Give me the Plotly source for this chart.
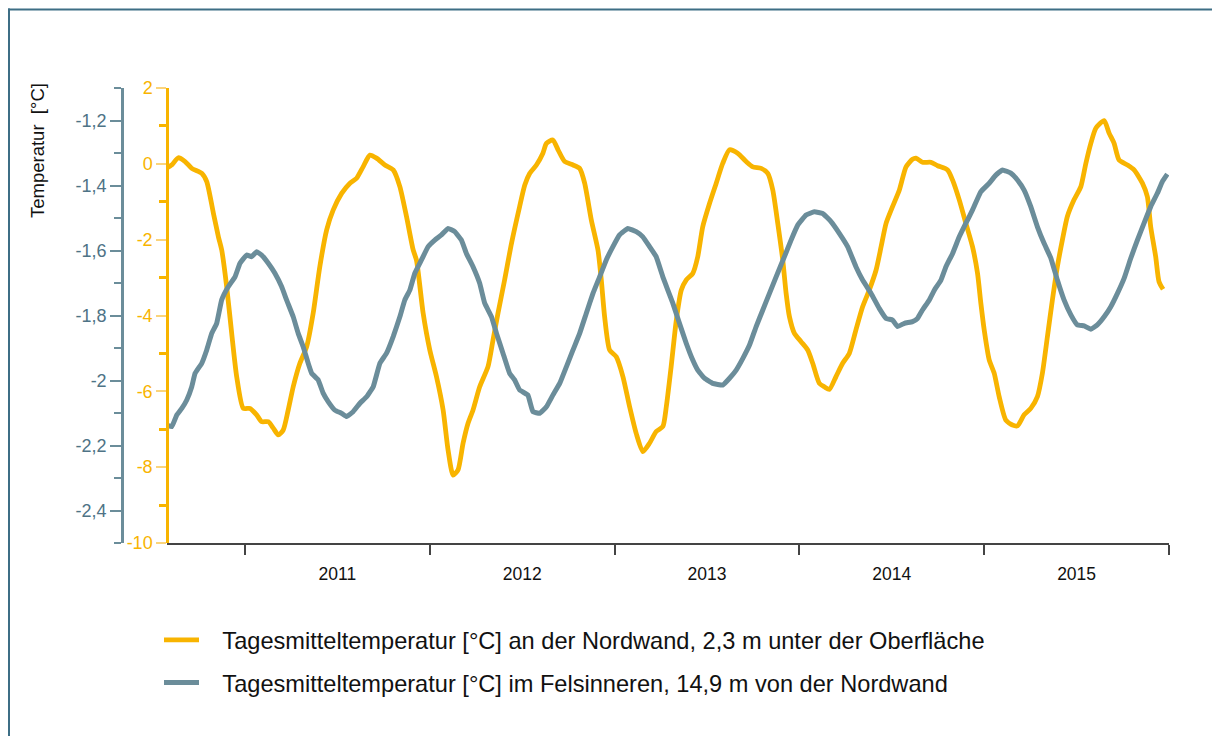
import plotly.graph_objects as go

# ---- data (decimal years, values) ----
t_nordwand = [2010.573, 2010.604, 2010.639, 2010.676, 2010.712, 2010.766, 2010.793, 2010.829, 2010.856, 2010.874,
              2010.901, 2010.928, 2010.955, 2010.991, 2011.027, 2011.063, 2011.090, 2011.126, 2011.153, 2011.180,
              2011.207, 2011.234, 2011.261, 2011.297, 2011.334, 2011.369, 2011.405, 2011.442, 2011.477, 2011.523,
              2011.568, 2011.604, 2011.639, 2011.676, 2011.712, 2011.757, 2011.802, 2011.838, 2011.874, 2011.910,
              2011.928, 2011.964, 2012.000, 2012.036, 2012.072, 2012.099, 2012.126, 2012.153, 2012.180, 2012.207,
              2012.234, 2012.270, 2012.315, 2012.342, 2012.369, 2012.405, 2012.442, 2012.486, 2012.514, 2012.541,
              2012.577, 2012.612, 2012.631, 2012.666, 2012.694, 2012.730, 2012.775, 2012.811, 2012.838, 2012.874,
              2012.910, 2012.928, 2012.946, 2012.973, 2013.009, 2013.045, 2013.081, 2013.117, 2013.153, 2013.189,
              2013.225, 2013.261, 2013.280, 2013.306, 2013.334, 2013.361, 2013.388, 2013.423, 2013.450, 2013.477,
              2013.514, 2013.550, 2013.585, 2013.622, 2013.666, 2013.712, 2013.748, 2013.793, 2013.829, 2013.856,
              2013.883, 2013.910, 2013.928, 2013.946, 2013.973, 2014.009, 2014.045, 2014.072, 2014.108, 2014.135,
              2014.162, 2014.198, 2014.234, 2014.270, 2014.306, 2014.342, 2014.378, 2014.415, 2014.442, 2014.469,
              2014.504, 2014.541, 2014.577, 2014.612, 2014.631, 2014.666, 2014.712, 2014.748, 2014.802, 2014.829,
              2014.865, 2014.901, 2014.937, 2014.964, 2014.982, 2015.000, 2015.027, 2015.054, 2015.081, 2015.117,
              2015.153, 2015.180, 2015.216, 2015.252, 2015.288, 2015.315, 2015.342, 2015.369, 2015.396, 2015.423,
              2015.450, 2015.486, 2015.523, 2015.550, 2015.577, 2015.604, 2015.649, 2015.676, 2015.703, 2015.730,
              2015.775, 2015.811, 2015.856, 2015.883, 2015.901, 2015.928, 2015.946, 2015.968]
temp_nordwand = [-0.12, -0.03, 0.16, 0.06, -0.12, -0.25, -0.47, -1.30, -1.92, -2.27,
                 -3.24, -4.47, -5.61, -6.45, -6.45, -6.62, -6.80, -6.80, -6.97, -7.15,
                 -7.02, -6.49, -5.88, -5.26, -4.82, -3.94, -2.71, -1.74, -1.22, -0.78,
                 -0.51, -0.38, -0.08, 0.23, 0.15, -0.03, -0.16, -0.60, -1.39, -2.27,
                 -2.54, -3.94, -4.91, -5.61, -6.49, -7.55, -8.21, -8.07, -7.37, -6.84,
                 -6.49, -5.88, -5.35, -4.65, -3.94, -3.06, -2.10, -1.13, -0.56, -0.25,
                 -0.03, 0.28, 0.54, 0.63, 0.37, 0.06, -0.03, -0.12, -0.51, -1.48,
                 -2.27, -3.06, -4.03, -4.91, -5.09, -5.61, -6.40, -7.11, -7.59, -7.37,
                 -7.06, -6.93, -6.40, -5.35, -4.12, -3.33, -3.06, -2.89, -2.45, -1.66,
                 -1.04, -0.51, 0.01, 0.37, 0.28, 0.06, -0.08, -0.12, -0.25, -0.69,
                 -1.57, -2.54, -3.41, -4.03, -4.47, -4.69, -4.91, -5.26, -5.79, -5.88,
                 -5.95, -5.61, -5.26, -5.00, -4.38, -3.77, -3.33, -2.80, -2.19, -1.57,
                 -1.13, -0.69, -0.08, 0.12, 0.15, 0.04, 0.04, -0.05, -0.16, -0.43,
                 -0.95, -1.57, -2.19, -2.89, -3.68, -4.38, -5.17, -5.52, -6.14, -6.76,
                 -6.89, -6.91, -6.62, -6.45, -6.14, -5.52, -4.56, -3.59, -2.71, -2.01,
                 -1.39, -0.95, -0.60, 0.01, 0.54, 0.94, 1.14, 0.81, 0.54, 0.10,
                 -0.03, -0.16, -0.51, -0.87, -1.66, -2.45, -3.11, -3.31]

t_fels = [2010.577, 2010.604, 2010.631, 2010.658, 2010.685, 2010.712, 2010.730, 2010.766, 2010.793, 2010.820,
          2010.847, 2010.874, 2010.910, 2010.946, 2010.973, 2011.009, 2011.036, 2011.063, 2011.090, 2011.126,
          2011.162, 2011.198, 2011.225, 2011.261, 2011.288, 2011.315, 2011.342, 2011.361, 2011.396, 2011.423,
          2011.450, 2011.486, 2011.523, 2011.550, 2011.585, 2011.622, 2011.658, 2011.694, 2011.730, 2011.766,
          2011.802, 2011.838, 2011.865, 2011.892, 2011.919, 2011.955, 2011.991, 2012.027, 2012.063, 2012.099,
          2012.135, 2012.171, 2012.198, 2012.234, 2012.270, 2012.297, 2012.334, 2012.361, 2012.396, 2012.432,
          2012.459, 2012.486, 2012.531, 2012.558, 2012.595, 2012.631, 2012.666, 2012.703, 2012.739, 2012.775,
          2012.811, 2012.847, 2012.883, 2012.919, 2012.955, 2012.991, 2013.027, 2013.072, 2013.117, 2013.153,
          2013.189, 2013.225, 2013.261, 2013.288, 2013.315, 2013.351, 2013.388, 2013.423, 2013.450, 2013.486,
          2013.531, 2013.585, 2013.622, 2013.658, 2013.694, 2013.730, 2013.766, 2013.802, 2013.838, 2013.874,
          2013.919, 2013.955, 2013.991, 2014.036, 2014.081, 2014.126, 2014.171, 2014.216, 2014.261, 2014.306,
          2014.342, 2014.388, 2014.432, 2014.469, 2014.504, 2014.531, 2014.568, 2014.612, 2014.639, 2014.666,
          2014.703, 2014.730, 2014.766, 2014.793, 2014.829, 2014.865, 2014.901, 2014.937, 2014.982, 2015.027,
          2015.063, 2015.099, 2015.144, 2015.180, 2015.216, 2015.252, 2015.288, 2015.324, 2015.361, 2015.396,
          2015.432, 2015.469, 2015.504, 2015.541, 2015.577, 2015.612, 2015.649, 2015.685, 2015.721, 2015.757,
          2015.793, 2015.829, 2015.865, 2015.901, 2015.937, 2015.964, 2015.991]
temp_fels = [-2.137, -2.142, -2.106, -2.086, -2.060, -2.019, -1.978, -1.947, -1.906, -1.855,
             -1.824, -1.752, -1.711, -1.681, -1.639, -1.614, -1.619, -1.604, -1.614, -1.639,
             -1.670, -1.711, -1.752, -1.804, -1.855, -1.896, -1.947, -1.978, -1.998, -2.039,
             -2.065, -2.091, -2.101, -2.111, -2.096, -2.070, -2.050, -2.019, -1.947, -1.916,
             -1.865, -1.804, -1.752, -1.722, -1.670, -1.629, -1.588, -1.568, -1.552, -1.532,
             -1.542, -1.568, -1.609, -1.650, -1.701, -1.762, -1.804, -1.855, -1.916, -1.978,
             -1.998, -2.029, -2.045, -2.096, -2.101, -2.081, -2.045, -2.009, -1.958, -1.906,
             -1.855, -1.793, -1.732, -1.681, -1.629, -1.588, -1.552, -1.532, -1.542, -1.558,
             -1.588, -1.619, -1.681, -1.722, -1.762, -1.824, -1.886, -1.937, -1.968, -1.993,
             -2.009, -2.014, -1.993, -1.968, -1.932, -1.891, -1.834, -1.783, -1.732, -1.681,
             -1.619, -1.568, -1.522, -1.491, -1.481, -1.486, -1.511, -1.547, -1.588, -1.650,
             -1.691, -1.732, -1.778, -1.809, -1.814, -1.834, -1.824, -1.819, -1.809, -1.783,
             -1.752, -1.722, -1.691, -1.650, -1.609, -1.558, -1.516, -1.475, -1.419, -1.393,
             -1.368, -1.352, -1.362, -1.383, -1.414, -1.465, -1.527, -1.578, -1.624, -1.691,
             -1.752, -1.798, -1.829, -1.832, -1.842, -1.829, -1.804, -1.773, -1.732, -1.686,
             -1.624, -1.568, -1.516, -1.465, -1.424, -1.388, -1.365]

name_nordwand = "Tagesmitteltemperatur [°C] an der Nordwand, 2,3 m unter der Oberfläche"
name_fels = "Tagesmitteltemperatur [°C] im Felsinneren, 14,9 m von der Nordwand"

year_labels = ["2011", "2012", "2013", "2014", "2015"]
year_label_pos = [2011.5, 2012.5, 2013.5, 2014.5, 2015.5]
year_bounds = [2011, 2012, 2013, 2014, 2015, 2016]

y1_ticks = [-10, -8, -6, -4, -2, 0, 2]
y1_text = ["-10", "-8", "-6", "-4", "-2", "0", "2"]
y1_minor = [-9, -7, -5, -3, -1, 1]
y2_ticks = [-2.4, -2.2, -2.0, -1.8, -1.6, -1.4, -1.2]
y2_text = ["-2,4", "-2,2", "-2", "-1,8", "-1,6", "-1,4", "-1,2"]
y2_minor = [-2.5, -2.3, -2.1, -1.9, -1.7, -1.5, -1.3, -1.1]

# ---- style ----
ORANGE = "#F8B400"
ORANGE_LIGHT = "#FBD47C"
GREY = "#6B8D9A"
GREY_TEXT = "#4E7386"
FRAME = "#3D6E85"
FONT = "Liberation Sans, Arial, sans-serif"

# page body margin is removed by the post script, so the figure fills the window
OFF = 0
W, H = 1212, 736
ML, MR, MT, MB = 122, 43, 88, 193
plot_w = W - ML - MR
plot_h = H - MT - MB
xdom0 = 45 / plot_w


def px_x(sx):
    return (sx - OFF - ML) / plot_w


def px_y(sy):
    return 1 - (sy - OFF - MT) / plot_h


fig = go.Figure()
fig.add_trace(go.Scatter(x=t_nordwand, y=temp_nordwand, name="\u2002\u00a0" + name_nordwand, mode="lines",
                         line=dict(color=ORANGE, width=4.8, shape="spline", smoothing=0.6),
                         yaxis="y", legendgroup="a"))
fig.add_trace(go.Scatter(x=t_fels, y=temp_fels, name="\u2002\u00a0" + name_fels, mode="lines",
                         line=dict(color=GREY, width=5, shape="spline", smoothing=0.3),
                         yaxis="y2", legendgroup="b"))

fig.update_layout(
    width=W, height=H,
    margin=dict(l=ML, r=MR, t=MT, b=MB, pad=0),
    paper_bgcolor="white", plot_bgcolor="white",
    font=dict(family=FONT, color="#111111"),
    xaxis=dict(domain=[xdom0, 1], range=[2010.578, 2016.0], showgrid=False, zeroline=False,
               showline=True, linecolor="#444444", linewidth=1.5,
               tickmode="array", tickvals=year_label_pos, ticktext=year_labels, ticks="",
               tickfont=dict(size=17.5, color="#111111"), ticklabelstandoff=14,
               minor=dict(tickmode="array", tickvals=year_bounds, ticks="outside", ticklen=10,
                          tickwidth=1.5, tickcolor="#444444", showgrid=False)),
    yaxis=dict(range=[-10, 2], anchor="free", position=xdom0, showgrid=False, zeroline=False,
               showline=True, linecolor=ORANGE, linewidth=2.5,
               tickmode="array", tickvals=y1_ticks, ticktext=y1_text,
               ticks="outside", ticklen=10, tickwidth=1.5, tickcolor=ORANGE_LIGHT,
               tickfont=dict(size=18, color=ORANGE),
               minor=dict(tickmode="array", tickvals=y1_minor, ticks="outside", ticklen=7,
                          tickwidth=3, tickcolor=ORANGE, showgrid=False)),
    yaxis2=dict(range=[-2.5, -1.1], overlaying="y", anchor="free", position=0, side="left",
                showgrid=False, zeroline=False, showline=True, linecolor=GREY, linewidth=2.5,
                tickmode="array", tickvals=y2_ticks, ticktext=y2_text,
                ticks="outside", ticklen=11, tickwidth=1.5, tickcolor=GREY,
                tickfont=dict(size=18, color=GREY_TEXT),
                minor=dict(tickmode="array", tickvals=y2_minor, ticks="outside", ticklen=7,
                           tickwidth=1.5, tickcolor=GREY, showgrid=False)),
    showlegend=True,
    legend=dict(orientation="v", x=px_x(159), y=px_y(618),
                xanchor="left", yanchor="top", font=dict(size=23.6, color="#111111"),
                bgcolor="rgba(0,0,0,0)", traceorder="grouped", tracegroupgap=9,
                itemwidth=35),
    annotations=[dict(text="Temperatur\u00a0 [°C]", xref="paper", yref="paper",
                      x=px_x(38), y=px_y(151), textangle=-90,
                      showarrow=False, xanchor="center", yanchor="middle",
                      font=dict(size=18.5, color="#111111"))],
    shapes=[
        # frame: top edge and left edge (the rest lies outside the picture)
        dict(type="line", xref="paper", yref="paper",
             x0=px_x(8), x1=px_x(1240), y0=px_y(9.5), y1=px_y(9.5),
             line=dict(color=FRAME, width=2), layer="above"),
        dict(type="line", xref="paper", yref="paper",
             x0=px_x(9), x1=px_x(9), y0=px_y(8.5), y1=px_y(790),
             line=dict(color=FRAME, width=2), layer="above"),
    ],
)

fig.write_html("out.html", config={"displayModeBar": False},
               post_script="document.body.style.margin='0';document.body.style.overflow='hidden';")
